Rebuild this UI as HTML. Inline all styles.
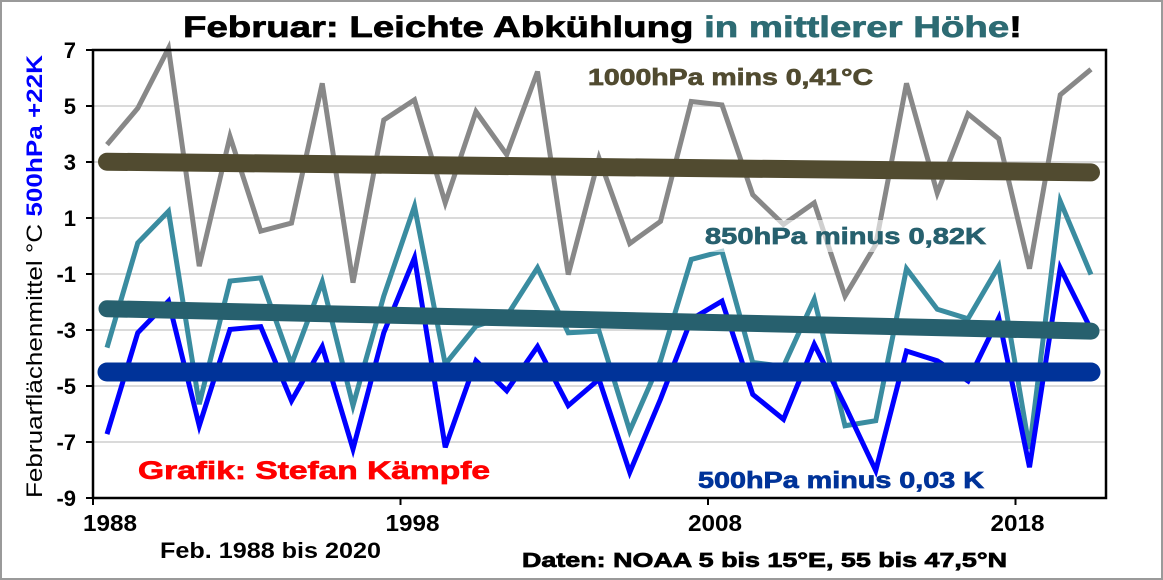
<!DOCTYPE html>
<html><head><meta charset="utf-8"><style>
body{margin:0;background:#fff}
svg{display:block;font-family:"Liberation Sans",Arial,sans-serif}
.hv{stroke-width:0.7px}
</style></head><body>
<svg id="chart" width="1163" height="580" viewBox="0 0 1163 580">
<rect x="1" y="1" width="1161" height="578" fill="#fff" stroke="#9a9a9a" stroke-width="2"/>
<text x="183" y="37" font-size="30" font-weight="bold" textLength="839" lengthAdjust="spacingAndGlyphs"><tspan fill="#000" stroke="#000" class="hv">Februar: Leichte Abkühlung </tspan><tspan fill="#2d6b73" stroke="#2d6b73" class="hv">in mittlerer Höhe</tspan><tspan fill="#000" stroke="#000" class="hv">!</tspan></text>
<g id="grid"></g>
<g id="series"></g>
<g id="axes"></g>
<text transform="translate(42,498) rotate(-90)" font-size="22" textLength="443" lengthAdjust="spacingAndGlyphs"><tspan fill="#000">Februarflächenmittel °C </tspan><tspan fill="#0000ff" font-weight="bold">500hPa +22K</tspan></text>
<text x="588" y="85" font-size="23" font-weight="bold" fill="#514b30" stroke="#514b30" class="hv" textLength="285" lengthAdjust="spacingAndGlyphs">1000hPa mins 0,41°C</text>
<rect x="700" y="220" width="290" height="32" fill="#fff" fill-opacity="0.6"/>
<text x="705" y="244" font-size="23" font-weight="bold" fill="#27606e" stroke="#27606e" class="hv" textLength="281" lengthAdjust="spacingAndGlyphs">850hPa minus 0,82K</text>
<text x="698" y="488" font-size="23" font-weight="bold" fill="#003399" stroke="#003399" class="hv" textLength="286" lengthAdjust="spacingAndGlyphs">500hPa minus 0,03 K</text>
<text x="138" y="479" font-size="25" font-weight="bold" fill="#ff0000" stroke="#ff0000" class="hv" textLength="352" lengthAdjust="spacingAndGlyphs">Grafik: Stefan Kämpfe</text>
<text x="160" y="558" font-size="22" font-weight="bold" textLength="221" lengthAdjust="spacingAndGlyphs">Feb. 1988 bis 2020</text>
<text x="522" y="567" font-size="20" font-weight="bold" stroke="#000" class="hv" textLength="485" lengthAdjust="spacingAndGlyphs">Daten: NOAA 5 bis 15°E, 55 bis 47,5°N</text>
</svg>
<script>
const years = [];
for (let y = 1988; y <= 2020; y++) years.push(y);
const series1000 = [3.62,4.92,7.06,-0.72,3.91,0.53,0.82,5.81,-1.31,4.5,5.22,1.54,4.8,3.26,6.23,-1.02,3.14,0.09,0.88,5.16,5.04,1.83,0.77,1.54,-1.79,0.05,5.81,1.89,4.72,3.83,-0.81,5.4,6.31];
const series850 = [-3.63,0.11,1.24,-5.65,-1.25,-1.14,-4.22,-1.28,-5.7,-1.79,1.42,-4.22,-2.86,-2.5,-0.78,-3.1,-3.04,-6.6,-4.1,-0.48,-0.19,-4.16,-4.3,-1.9,-6.42,-6.24,-0.81,-2.26,-2.6,-0.72,-7.25,1.6,-1.02];
const series500 = [-6.72,-3.1,-1.97,-6.42,-2.98,-2.88,-5.53,-3.59,-7.25,-3.1,-0.42,-7.19,-4.1,-5.17,-3.59,-5.7,-4.76,-8.08,-5.47,-2.62,-1.97,-5.3,-6.19,-3.51,-5.7,-8.02,-3.75,-4.1,-4.82,-2.57,-7.9,-0.78,-2.98];
const trend1000 = [3.01, 2.63];
const trend850 = [-2.24, -3.04];
const trend500 = [-4.5, -4.5];
const yTicks = [7,5,3,1,-1,-3,-5,-7,-9];
const xTickLabels = ["1988","1998","2008","2018"];

const NS = "http://www.w3.org/2000/svg";
const L = 93, R = 1106, T = 50, B = 498, yMax = 7, yMin = -9;
const step = 30.75;
const xAt = i => 107 + i * step;
const yAt = v => T + (yMax - v) / (yMax - yMin) * (B - T);
function mk(tag, attrs, parent) {
  const e = document.createElementNS(NS, tag);
  for (const k in attrs) e.setAttribute(k, attrs[k]);
  parent.appendChild(e);
  return e;
}
const grid = document.getElementById('grid');
const axes = document.getElementById('axes');
const ser = document.getElementById('series');

yTicks.forEach(v => {
  if (v !== yMin && v !== yMax) {
    const g = mk('line', {x1: L, x2: R, y1: yAt(v), y2: yAt(v), stroke: '#c4c4c4', 'stroke-width': 1.3}, grid);
    
    
  }
  const t = mk('line', {x1: L - 7, x2: L, y1: yAt(v), y2: yAt(v), stroke: '#000', 'stroke-width': 2}, axes);
  
  
  const lb = mk('text', {x: 76, y: yAt(v) + 8, 'text-anchor': 'end', 'font-size': 22, 'font-weight': 'bold'}, axes);
  lb.textContent = String(v);
  
  
});
const fr = mk('rect', {x: L, y: T, width: R - L, height: B - T, fill: 'none', stroke: '#000', 'stroke-width': 2.5}, axes);


xTickLabels.forEach((s, k) => {
  const x = L + k * 10 * step;
  const t = mk('line', {x1: x, x2: x, y1: B, y2: B + 7, stroke: '#000', 'stroke-width': 2}, axes);
  
  
  const lb = mk('text', {x: x - 10 - k * 5, y: B + 33, 'font-size': 23, 'font-weight': 'bold', textLength: 54, lengthAdjust: 'spacingAndGlyphs'}, axes);
  lb.textContent = s;
  
  
});

function line(vals, color, w, name) {
  const p = mk('polyline', {points: vals.map((v, i) => xAt(i) + ',' + yAt(v)).join(' '), fill: 'none', stroke: color, 'stroke-width': w, 'stroke-linejoin': 'miter'}, ser);
  
  
}
function trend(tv, color, w, name) {
  const p = mk('line', {x1: xAt(0), y1: yAt(tv[0]), x2: xAt(years.length - 1), y2: yAt(tv[1]), stroke: color, 'stroke-width': w, 'stroke-linecap': 'round'}, ser);
  
  
}
line(series1000, '#888888', 5, 'line-1000hpa');
trend(trend1000, '#514b30', 18, 'trend-1000hpa');
line(series850, '#3a8ca0', 5, 'line-850hpa');
line(series500, '#0000ff', 5, 'line-500hpa');
trend(trend850, '#27606e', 17, 'trend-850hpa');
trend(trend500, '#003399', 19, 'trend-500hpa');
</script>
</body></html>
